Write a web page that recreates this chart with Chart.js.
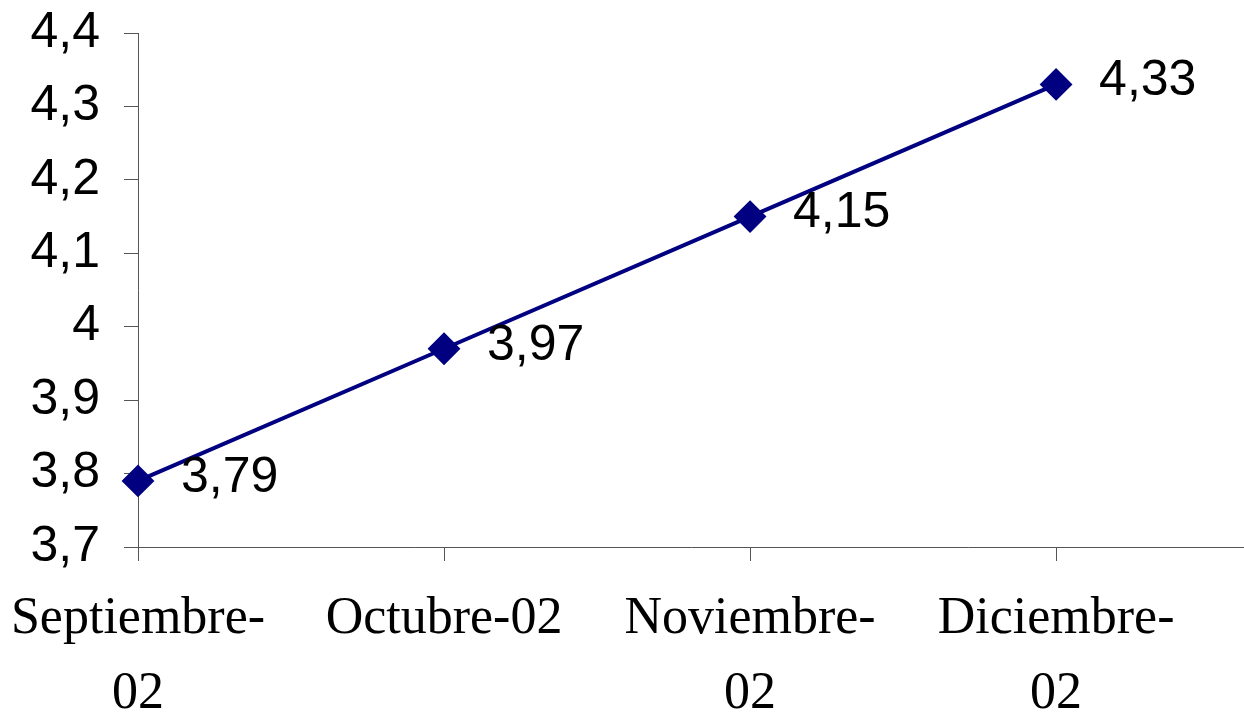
<!DOCTYPE html>
<html>
<head>
<meta charset="utf-8">
<script src="https://cdn.jsdelivr.net/npm/chart.js@4"></script>
<style>
  html, body { margin: 0; padding: 0; background: #ffffff; }
  #wrap { width: 1244px; height: 716px; }
</style>
</head>
<body>
<div id="wrap"><canvas id="lineChart" width="1244" height="716"></canvas></div>
<script>
// Category labels (wrapped like the original) and values
var categories = [["Septiembre-", "02"], ["Octubre-02"], ["Noviembre-", "02"], ["Diciembre-", "02"]];
var values = [3.79, 3.97, 4.15, 4.33];
var yTicks = [3.7, 3.8, 3.9, 4.0, 4.1, 4.2, 4.3, 4.4];

function fmt(v) {
  // Excel "general" style with comma decimal
  return String(Number(v.toFixed(2))).replace(".", ",");
}

var points = values.map(function (v, i) { return { x: i, y: v }; });

// Draws the value to the right of each marker
var valueLabels = {
  id: "valueLabels",
  afterDatasetsDraw: function (chart) {
    var ctx = chart.ctx;
    var meta = chart.getDatasetMeta(0);
    ctx.save();
    ctx.font = "50px 'Liberation Sans', Arial, sans-serif";
    ctx.fillStyle = "#000000";
    ctx.textAlign = "left";
    ctx.textBaseline = "middle";
    meta.data.forEach(function (pt, i) {
      ctx.fillText(fmt(values[i]), pt.x + 43, pt.y - 3);
    });
    ctx.restore();
  },
};

var ctx = document.getElementById("lineChart").getContext("2d");
var chart = new Chart(ctx, {
  type: "line",
  data: {
    datasets: [
      {
        data: points,
        borderColor: "#000080",
        backgroundColor: "#000080",
        borderWidth: 4,
        pointStyle: "rectRot",
        pointRadius: 15,
        pointBorderWidth: 2,
        pointBackgroundColor: "#000080",
        pointBorderColor: "#000080",
        tension: 0,
        fill: false,
        clip: false,
      },
    ],
  },
  options: {
    responsive: false,
    animation: false,
    layout: { autoPadding: false, padding: { top: 33, right: 0, bottom: 0, left: 0 } },
    plugins: {
      legend: { display: false },
      tooltip: { enabled: false },
    },
    scales: {
      x: {
        type: "linear",
        min: 0,
        max: 3.614,
        afterFit: function (scale) {
          scale.height = 169;
          // no extra room for overhanging labels
          scale.paddingLeft = 0;
          scale.paddingRight = 0;
        },
        afterBuildTicks: function (scale) {
          scale.ticks = categories.map(function (c, i) { return { value: i }; });
        },
        ticks: {
          includeBounds: false,
          padding: 21,
          color: "#000000",
          maxRotation: 0,
          autoSkip: false,
          font: { family: "'Liberation Serif', 'Times New Roman', serif", size: 52, lineHeight: 1.44 },
          callback: function (value) { return categories[value]; },
        },
        grid: { drawOnChartArea: false, tickLength: 14, color: "#555555", lineWidth: 1 },
        border: { color: "#555555", width: 1 },
      },
      y: {
        min: 3.7,
        max: 4.4,
        afterFit: function (scale) {
          scale.width = 138;
          scale.paddingTop = 0;
          scale.paddingBottom = 0;
        },
        afterBuildTicks: function (scale) {
          scale.ticks = yTicks.map(function (v) { return { value: v }; });
        },
        ticks: {
          padding: 24,
          color: "#000000",
          font: { family: "'Liberation Sans', Arial, sans-serif", size: 50 },
          callback: function (value) { return fmt(value); },
        },
        grid: { drawOnChartArea: false, tickLength: 14, color: "#555555", lineWidth: 1 },
        border: { color: "#555555", width: 1 },
      },
    },
  },
  plugins: [valueLabels],
});
</script>
</body>
</html>
